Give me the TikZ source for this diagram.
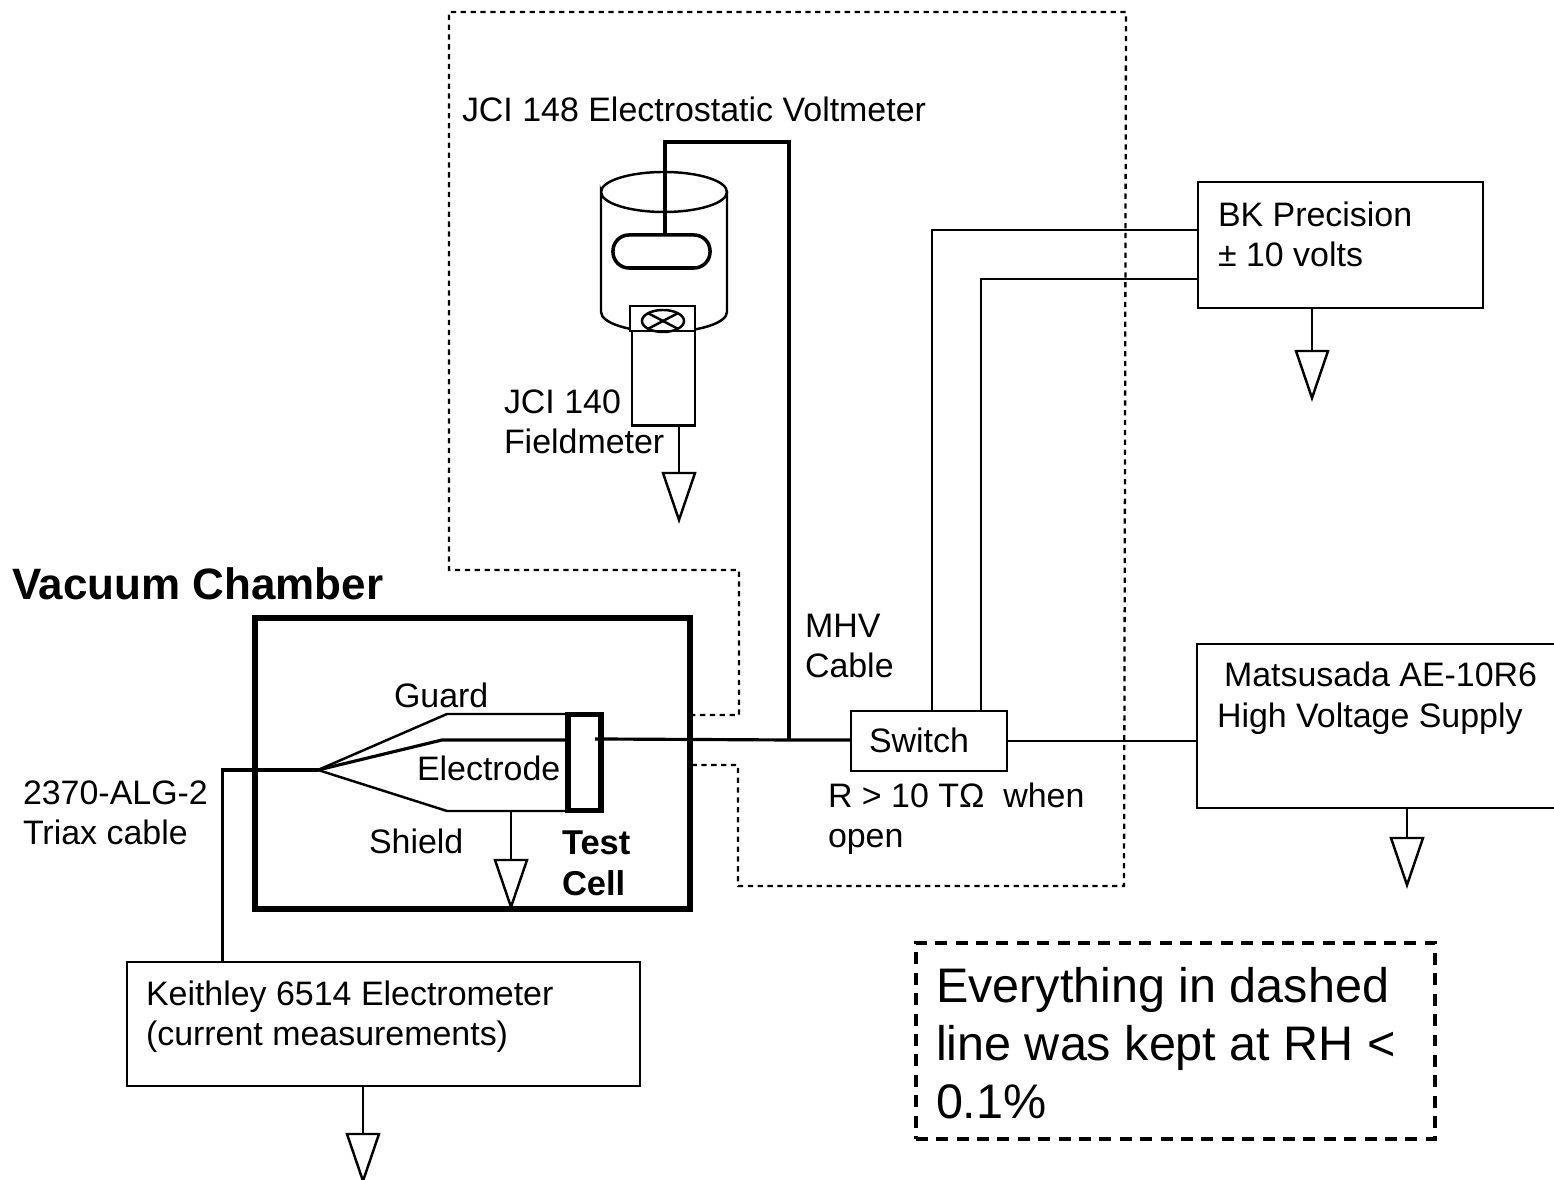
\documentclass[tikz,border=0pt]{standalone}
\usepackage{fontspec}
\setmainfont{Liberation Sans}
\usetikzlibrary{positioning, calc, shapes.geometric}

\tikzset{
    lbl/.style={inner sep=0, outer sep=0, anchor=base west, align=left, font=\fontsize{9.65}{11.4}\selectfont},
    box/.style={draw, line width=0.7pt, fill=white, inner sep=0, outer sep=0},
    wire/.style={line width=0.7pt},
    heavy/.style={line width=0.9pt},
    dry/.style={line width=0.65pt, dash pattern=on 1.5pt off 1.3pt}
}

\begin{document}
\begin{tikzpicture}[x=0.01cm, y=-0.01cm]
\useasboundingbox (0,0) rectangle (1554,1180);
\clip (0,0) rectangle (1554,1180);

% boxes
\node[box, line width=1.5pt, minimum width=4.35cm, minimum height=2.91cm] (chamber) at (472.5,763.5) {};
\node[box, line width=1.5pt, minimum width=0.33cm, minimum height=0.96cm] (cell) at (584.5,762.5) {};
\node[box, minimum width=1.56cm, minimum height=0.6cm] (switch) at (929,741) {};
\node[box, minimum width=2.85cm, minimum height=1.26cm] (bk) at (1340.5,245) {};
\node[box, minimum width=3.8cm, minimum height=1.64cm] (supply) at (1387,726) {};
\node[box, minimum width=5.13cm, minimum height=1.24cm] (keithley) at (383.5,1024) {};

% voltmeter can
\coordinate (can) at (664,192);
\draw[wire] (601,312) -- (601,192) arc[start angle=180, end angle=-180, x radius=63, y radius=20];
\draw[wire] (727,192) -- (727,312) arc[start angle=0, end angle=180, x radius=63, y radius=20];
\node[draw, line width=1pt, rounded corners=0.16cm, minimum width=0.97cm, minimum height=0.33cm, inner sep=0, outer sep=0] (slot) at (661.5,251.5) {};

% fieldmeter
\node[box, minimum width=0.63cm, minimum height=0.95cm] (field) at (663.5,378) {};
\node[box, line width=0.8pt, minimum width=0.65cm, minimum height=0.25cm] (sensor) at (662.5,318.5) {};
\node[draw, line width=0.7pt, ellipse, minimum width=0.42cm, minimum height=0.22cm, inner sep=0, outer sep=0] (rotor) at (663,321) {};
\draw[wire] (rotor.north west) -- (rotor.south east);
\draw[wire] (rotor.south west) -- (rotor.north east);

% dashed enclosure
\draw[dry] (chamber.east |- 0,715) -- (739,715) -- (739,570) -- (449,570) -- (449,12) -- (1126,12) -- (1124,886) -- (738,886) -- (738,765) -- (chamber.east |- 0,765);
\node[draw, line width=1.2pt, dash pattern=on 3.4pt off 2.4pt, minimum width=5.19cm, minimum height=1.96cm, inner sep=0] (note) at (1175.5,1041) {};

% test cell wiring
\coordinate (fork) at (318,770);
\coordinate (guardend) at (447,714);
\coordinate (elecend) at (442,740);
\coordinate (shieldend) at (447,811);
\draw[heavy] (keithley.north west) ++(96,0) |- (fork);
\draw[wire] (fork) -- (guardend) -- (guardend -| cell.west);
\draw[heavy] (fork) -- (elecend) -- (elecend -| cell.west);
\draw[wire] (fork) -- (shieldend) -- (shieldend -| cell.west);

% high voltage wiring
\coordinate (tee) at (789,740);
\draw[heavy] (595,739) -- (cell.east |- 0,739) -- (tee) -- (switch.west |- tee);
\draw[heavy] (tee) -- (789,142) -| (665,235);
\draw[wire] (switch.east) -- (supply.west |- switch.east);
\draw[wire] (switch.north west) ++(81,0) |- ([yshift=-0.48cm]bk.north west);
\draw[wire] (switch.north west) ++(130,0) |- ([yshift=-0.97cm]bk.north west);

% grounds
\foreach \name/\src/\x/\y in {a/field/679/473, b/bk/1312/351, c/supply/1407/838, d/cell/511/860, e/keithley/363/1134}
{
    \coordinate (g\name) at (\x, \y);
    \draw[wire] (g\name |- \src.south) -- (g\name);
    \draw[wire] (g\name) ++(-16,0) -- ++(32,0) -- ++(-16,47) -- cycle;
}

% labels
\node[lbl] (volt) at (462,122) {JCI 148 Electrostatic Voltmeter};
\node[lbl] (fm) at (504,454) {JCI 140\\Fieldmeter};
\node[lbl, font=\fontsize{12.5}{15}\selectfont\bfseries] (vac) at (12,600) {Vacuum Chamber};
\node[lbl] (mhv) at (805,678) {MHV\\Cable};
\node[lbl] (guard) at (394,708) {Guard};
\node[lbl] (elec) at (417,781) {Electrode};
\node[lbl] (shield) at (369,854) {Shield};
\node[lbl, font=\fontsize{9.8}{11.7}\selectfont\bfseries] (tc) at (562,896) {Test\\Cell};
\node[lbl] (triax) at (23,845) {2370-ALG-2\\Triax cable};
\node[lbl] (sw) at (869,753) {Switch};
\node[lbl] (open) at (828,848) {R > 10 TΩ\ \ when\\open};
\node[lbl] (bktext) at (1218,267) {BK Precision\\± 10 volts};
\node[lbl] (hv1) at (1224,687) {Matsusada AE-10R6};
\node[lbl] (hv2) at (1217,728) {High Voltage Supply};
\node[lbl] (ktext) at (146,1046) {Keithley 6514 Electrometer\\(current measurements)};
\node[lbl, font=\fontsize{13.8}{16.5}\selectfont] (notetext) at (936,1119) {Everything in dashed\\line was kept at RH <\\0.1\%};
\end{tikzpicture}
\end{document}
